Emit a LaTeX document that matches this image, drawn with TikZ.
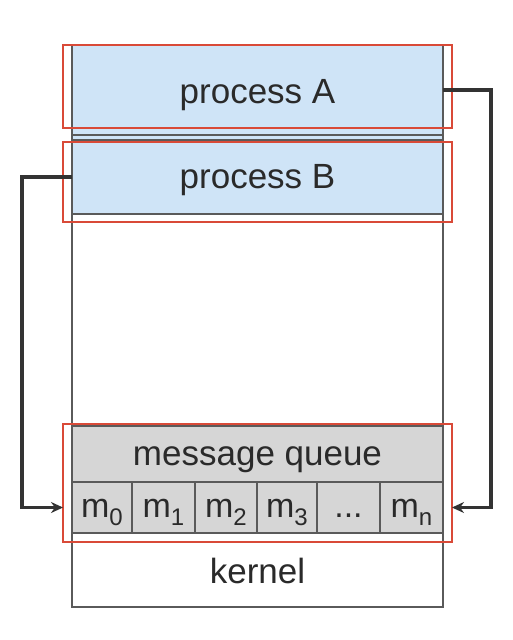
\documentclass[tikz,border=0pt]{standalone}
\usepackage{fontspec}
\setmainfont{Liberation Sans}
\usetikzlibrary{arrows.meta}
\definecolor{procblue}{HTML}{CFE4F7}
\definecolor{qgray}{HTML}{D6D6D6}
\definecolor{redline}{HTML}{D94A38}
\definecolor{boxline}{HTML}{5A5A5A}
\definecolor{arrowc}{HTML}{333333}
\definecolor{txt}{HTML}{2A2A2A}
% place text with its baseline #1 pt below the node centre
\newcommand\basedown[2]{\raisebox{-#1pt}[0pt][0pt]{#2}}
\newcommand\msub[1]{\basedown{9.5}{m\raisebox{-8pt}{\fontsize{24}{24}\selectfont #1}}}
\begin{document}
\begin{tikzpicture}[x=1pt,y=-1pt,
  box/.style={draw=boxline, line width=1.5pt, inner sep=0pt, outer sep=0pt,
    anchor=north west, text=txt, font=\fontsize{35}{40}\selectfont},
  proc/.style={box, fill=procblue, minimum width=371pt},
  qbox/.style={box, fill=qgray},
  cell/.style={qbox, minimum height=51pt, font=\fontsize{34}{36}\selectfont},
  redbox/.style={draw=redline, line width=1.2pt, inner sep=0pt, outer sep=0pt,
    anchor=north west, minimum width=389pt},
  conn/.style={draw=arrowc, line width=3.2pt, -{Stealth[length=12pt,width=11pt]}},
]
\useasboundingbox[fill=white] (0,0) rectangle (512,640);
% outer column
\node[box, minimum width=371pt, minimum height=562pt] (outer) at (72,45) {};
% processes
\node[proc, minimum height=90pt] (pA) at (72,45) {\basedown{13}{process A}};
\node[proc, minimum height=5pt] (strip) at (72,135) {};
\node[proc, minimum height=74pt] (pB) at (72,140) {\basedown{11}{process B}};
% message queue
\node[qbox, minimum width=371pt, minimum height=56pt] (mq) at (72,426) {\basedown{11}{message queue}};
\node[cell, minimum width=60pt] (c1) at (72,482) {\msub{0}};
\node[cell, minimum width=63pt] (c2) at (132,482) {\msub{1}};
\node[cell, minimum width=62pt] (c3) at (195,482) {\msub{2}};
\node[cell, minimum width=60pt] (c4) at (257,482) {\msub{3}};
\node[cell, minimum width=63pt] (c5) at (317,482) {\basedown{9.5}{...}};
\node[cell, minimum width=63pt] (c6) at (380,482) {\msub{n}};
% kernel
\node[box, minimum width=371pt, minimum height=74pt] (kernel) at (72,533) {\basedown{13}{kernel}};
% red outlines
\node[redbox, minimum height=83pt] (rA) at (63,45) {};
\node[redbox, minimum height=80pt] (rB) at (63,142) {};
\node[redbox, minimum height=118pt] (rQ) at (63,424) {};
% connectors
\coordinate (aR) at ([xshift=48pt]pA.east);
\coordinate (aL) at ([xshift=-50pt]pB.west);
\draw[conn] (pA.east) -- (aR) |- (rQ.east |- c6.center);
\draw[conn] (pB.west) -- (aL) |- (rQ.west |- c1.center);
\end{tikzpicture}
\end{document}
